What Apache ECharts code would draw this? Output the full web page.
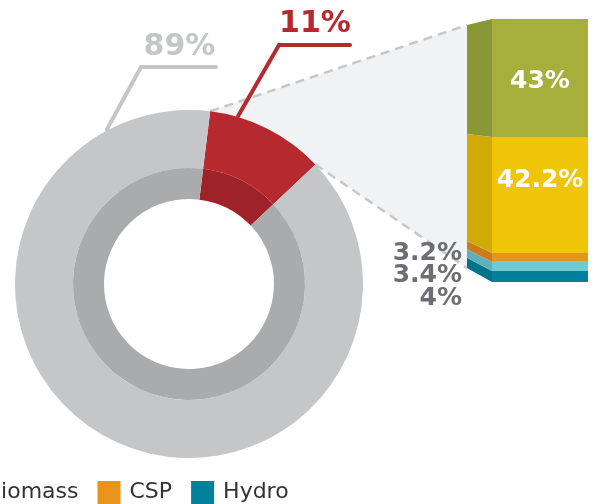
<!DOCTYPE html>
<html>
<head>
<meta charset="utf-8">
<title>Renewables share</title>
<script src="https://cdn.jsdelivr.net/npm/echarts@6/dist/echarts.min.js"></script>
<style>
  html, body { margin: 0; padding: 0; background: #fff; }
  #main { width: 597px; height: 504px; }
</style>
</head>
<body>
<div id="main"></div>
<script>
// donut: share of the whole
var shareNames = ['Renewables', 'Other'];
var shareValues = [11, 89];

// bar: breakdown of the 11%, listed bottom to top
var mixNames = ['Hydro', 'Biomass', 'CSP', 'Solar PV', 'Wind'];
var mixValues = [4, 3.4, 3.2, 42.2, 43];
var legendNames = ['Biomass', 'CSP', 'Hydro'];

var frontColors = ['#00809b', '#6fcad1', '#e8931a', '#eec507', '#a6ae3c'];
var sideColors = ['#00738c', '#60b1b7', '#cc7a1f', '#d0ab06', '#8a9737'];
var shareOuter = ['#b5292f', '#c5c6c8'];
var shareInner = ['#9e2227', '#aaabad'];
var labelGray = '#6d6e71';

// layout
var cx = 189, cy = 284, R = 174, rMid = 116, rIn = 85;
var startAngle = 83;
var gridLeft = 492, gridTop = 19, gridWidth = 96, gridHeight = 263;
var depth = 25, topDrop = 6, bottomRise = 14;
// vertical nudges for the bar labels (index as in mixValues)
var labelShift = [21.5, 9.5, -4, -14, 3];

var total = mixValues.reduce(function (a, b) { return a + b; }, 0);
var shareTotal = shareValues.reduce(function (a, b) { return a + b; }, 0);
var bases = [], acc = 0;
mixValues.forEach(function (v) { bases.push(acc); acc += v; });

var chart = echarts.init(document.getElementById('main'));

var series = mixNames.map(function (name, i) {
    var big = mixValues[i] > 10;
    return {
        name: name,
        type: 'bar',
        stack: 'mix',
        barWidth: '100%',
        silent: true,
        itemStyle: { color: frontColors[i] },
        label: {
            show: true,
            position: big ? 'inside' : 'left',
            distance: 30,
            offset: [0, labelShift[i]],
            formatter: function (p) { return p.value + '%'; },
            color: big ? '#fff' : labelGray,
            fontSize: 25,
            fontWeight: 'bold',
            fontFamily: 'DejaVu Sans'
        },
        data: [mixValues[i]]
    };
});

// side faces of the bar, drawn in perspective from the same stack
series.push({
    type: 'custom',
    silent: true,
    encode: { x: 0, y: [1, 2] },
    renderItem: function (params, api) {
        var i = api.value(3);
        var yS = api.coord([0, api.value(2)])[1];
        var yE = api.coord([0, api.value(1)])[1];
        var yTop = api.coord([0, total])[1];
        var yBot = api.coord([0, 0])[1];
        var xF = api.coord([0, 0])[0] - api.size([1, 0])[0] / 2;
        var xL = xF - depth;
        var k = ((yBot - bottomRise) - (yTop + topDrop)) / (yBot - yTop);
        function proj(y) { return yTop + topDrop + (y - yTop) * k; }
        return {
            type: 'polygon',
            shape: { points: [[xL, proj(yS)], [xF, yS], [xF, yE], [xL, proj(yE)]] },
            style: { fill: sideColors[i] }
        };
    },
    data: mixValues.map(function (v, i) { return [0, bases[i], bases[i] + v, i]; })
});

function ring(radius, colors) {
    return {
        type: 'pie',
        center: [cx, cy],
        radius: radius,
        startAngle: startAngle,
        silent: true,
        label: { show: false },
        labelLine: { show: false },
        emphasis: { disabled: true },
        data: shareNames.map(function (n, i) {
            return { name: n, value: shareValues[i], itemStyle: { color: colors[i] } };
        })
    };
}
series.push(ring([rMid, R], shareOuter));
series.push(ring([rIn, rMid], shareInner));

chart.setOption({
    animation: false,
    textStyle: { fontFamily: 'DejaVu Sans' },
    grid: { left: gridLeft, top: gridTop, width: gridWidth, height: gridHeight },
    xAxis: { type: 'category', data: ['mix'], show: false },
    yAxis: { type: 'value', min: 0, max: total, show: false },
    legend: {
        data: legendNames,
        left: -46,
        top: 481,
        padding: 0,
        itemWidth: 23,
        itemHeight: 23,
        itemGap: 19,
        icon: 'rect',
        selectedMode: false,
        textStyle: { fontSize: 22, color: '#333', fontFamily: 'DejaVu Sans', padding: [0, 0, 0, 4] }
    },
    series: series
});

// zoom connector and leader labels
function onRing(deg, r) {
    var a = deg * Math.PI / 180;
    return [cx + r * Math.cos(a), cy - r * Math.sin(a)];
}
var a1 = startAngle;
var a2 = startAngle - shareValues[0] / shareTotal * 360;
var p1 = onRing(a1, R), p4 = onRing(a2, R);
var topPx = chart.convertToPixel({ seriesIndex: 0 }, [0, total]);
var botPx = chart.convertToPixel({ seriesIndex: 0 }, [0, 0]);
var xL = gridLeft - depth;
var p2 = [xL, topPx[1] + topDrop], p3 = [xL, botPx[1] - bottomRise];

var dash = { stroke: '#c6c7c9', lineWidth: 2.5, lineDash: [9, 6] };
var redStart = onRing(73.7, R + 1), grayStart = onRing(118, R + 1);

chart.setOption({
    graphic: [
        { type: 'polygon', z: 0, silent: true, shape: { points: [p1, p2, p3, p4] }, style: { fill: '#f1f2f4' } },
        { type: 'line', z: 1, silent: true, shape: { x1: p1[0], y1: p1[1], x2: p2[0], y2: p2[1] }, style: dash },
        { type: 'line', z: 1, silent: true, shape: { x1: p4[0], y1: p4[1], x2: p3[0], y2: p3[1] }, style: dash },
        { type: 'polyline', z: 1, silent: true, shape: { points: [grayStart, [141, 67], [216, 67]] },
          style: { stroke: shareOuter[1], lineWidth: 4, fill: null, lineCap: 'round' } },
        { type: 'polyline', z: 1, silent: true, shape: { points: [redStart, [279, 45], [350, 45]] },
          style: { stroke: shareOuter[0], lineWidth: 4, fill: null, lineCap: 'round' } },
        { type: 'text', z: 5, silent: true,
          style: { text: shareValues[1] + '%', x: 179.5, y: 47, align: 'center', verticalAlign: 'middle',
                   font: 'bold 30px "DejaVu Sans"', fill: shareOuter[1] } },
        { type: 'text', z: 5, silent: true,
          style: { text: shareValues[0] + '%', x: 315, y: 24, align: 'center', verticalAlign: 'middle',
                   font: 'bold 30px "DejaVu Sans"', fill: shareOuter[0] } }
    ]
});
</script>
</body>
</html>
